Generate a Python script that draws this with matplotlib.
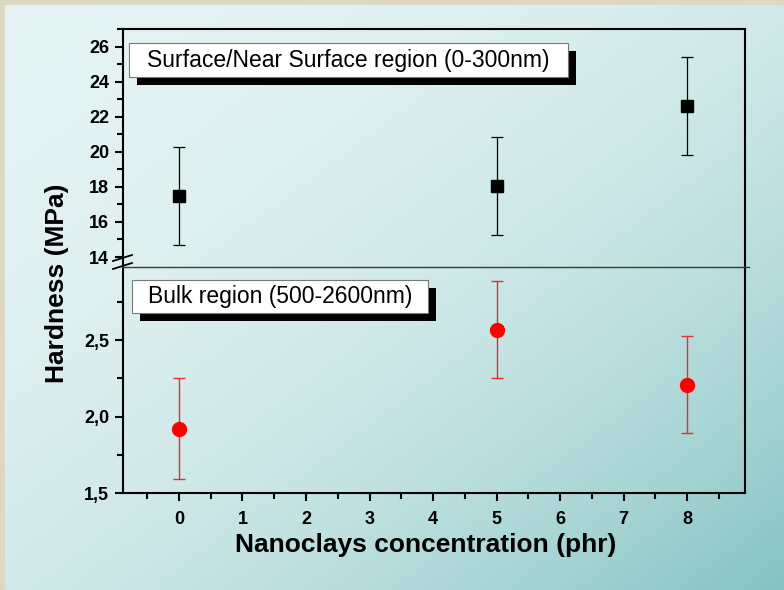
import numpy as np
import matplotlib
matplotlib.use('Agg')
import matplotlib.pyplot as plt
from matplotlib.patches import Rectangle
from matplotlib.lines import Line2D
from matplotlib.ticker import MultipleLocator, FuncFormatter

plt.rcParams['font.family'] = ['Liberation Sans', 'DejaVu Sans']

# data
conc = [0, 5, 8]
surf_hardness = [17.5, 18.05, 22.6]
surf_err = [2.8, 2.8, 2.8]
bulk_hardness = [1.92, 2.57, 2.21]
bulk_err = [0.33, 0.32, 0.32]
x_ticks = [0, 1, 2, 3, 4, 5, 6, 7, 8]
surf_ticks = [14, 16, 18, 20, 22, 24, 26]
bulk_ticks = [1.5, 2.0, 2.5]

W, H = 784, 590
fig = plt.figure(figsize=(W / 100, H / 100), dpi=100)

# background gradient
bg = fig.add_axes([0, 0, 1, 1], zorder=-10)
xx, yy = np.meshgrid(np.linspace(0, 1, 200), np.linspace(0, 1, 150))
t = ((xx + yy) / 2) ** 2.3
c0 = np.array([0.895, 0.952, 0.952])
c1 = np.array([0.52, 0.765, 0.765])
img = c0[None, None, :] * (1 - t[..., None]) + c1[None, None, :] * t[..., None]
bg.imshow(img, extent=[0, 1, 0, 1], aspect='auto', origin='upper')
bg.add_patch(Rectangle((0, 0), 5 / W, 1, color='#ddd8c4', lw=0))
bg.add_patch(Rectangle((0, 1 - 5 / H), 1, 5 / H, color='#ddd8c4', lw=0))
bg.set_xlim(0, 1)
bg.set_ylim(0, 1)
bg.axis('off')

left, right = 123 / W, 745 / W
y_top, y_mid, y_bot = 1 - 29 / H, 1 - 267 / H, 1 - 493 / H
ax1 = fig.add_axes([left, y_mid, right - left, y_top - y_mid])
ax2 = fig.add_axes([left, y_bot, right - left, y_mid - y_bot], sharex=ax1)
for ax in (ax1, ax2):
    ax.patch.set_alpha(0)
    for s in ax.spines.values():
        s.set_linewidth(1.5)

ax1.errorbar(conc, surf_hardness, yerr=surf_err, fmt='s', color='black',
             ms=8, ecolor='black', elinewidth=0.9, capsize=4.5, capthick=0.9, zorder=3)
ax2.errorbar(conc, bulk_hardness, yerr=bulk_err, fmt='o', color='#ff0000',
             ms=10, ecolor='#ee2a2a', elinewidth=1.0, capsize=4.5, capthick=1.0, zorder=3)

ax1.set_xlim(-0.88, 8.91)
ax1.set_ylim(13.43, 27.0)
ax2.set_ylim(1.5, 2.98)

ax1.spines['bottom'].set_visible(False)
ax2.spines['top'].set_visible(False)

ax1.set_yticks(surf_ticks)
ax1.yaxis.set_minor_locator(MultipleLocator(1))
ax2.set_yticks(bulk_ticks)
ax2.yaxis.set_minor_locator(MultipleLocator(0.25))
ax2.yaxis.set_major_formatter(FuncFormatter(lambda v, p: ('%.1f' % v).replace('.', ',')))
ax2.set_xticks(x_ticks)
ax2.xaxis.set_minor_locator(MultipleLocator(0.5))

for ax in (ax1, ax2):
    ax.tick_params(axis='both', which='major', direction='out', length=6, width=1.5,
                   labelsize=13, pad=4)
    ax.tick_params(axis='both', which='minor', direction='out', length=4, width=1.5)
    ax.tick_params(right=False, top=False, which='both')
    for lab in ax.get_yticklabels() + ax.get_xticklabels():
        lab.set_fontweight('bold')
ax2.tick_params(axis='x', which='major', pad=7)
ax1.tick_params(axis='x', which='both', bottom=False, labelbottom=False)

# separator and break marks
fig.add_artist(Line2D([123 / W, 749 / W], [y_mid, y_mid], color='#3a3a3a', lw=1.0))
for yy0 in (261, 269):
    fig.add_artist(Line2D([113 / W, 132 / W], [1 - yy0 / H, 1 - (yy0 - 6) / H],
                          color='black', lw=1.3))


def label_box(x0, y0, x1, y1, text, fs):
    off = 8
    fig.add_artist(Rectangle((x0 / W + off / W, 1 - (y1 + off) / H), (x1 - x0) / W, (y1 - y0) / H,
                             transform=fig.transFigure, color='black', lw=0))
    fig.add_artist(Rectangle((x0 / W, 1 - y1 / H), (x1 - x0) / W, (y1 - y0) / H,
                             transform=fig.transFigure, facecolor='white', edgecolor='#777777', lw=0.8))
    fig.text((x0 + x1) / 2 / W, 1 - (y0 + y1) / 2 / H, text, fontsize=fs,
             ha='center', va='center')


label_box(129, 43, 568, 77, 'Surface/Near Surface region (0-300nm)', 16.5)
label_box(132, 280, 428, 313, 'Bulk region (500-2600nm)', 16.5)

fig.text(57 / W, 1 - 283 / H, 'Hardness (MPa)', rotation=90, fontsize=19,
         fontweight='bold', ha='center', va='center')
fig.text(426 / W, 1 - 545 / H, 'Nanoclays concentration (phr)', fontsize=19,
         fontweight='bold', ha='center', va='center')

fig.savefig('out.png', dpi=100)
